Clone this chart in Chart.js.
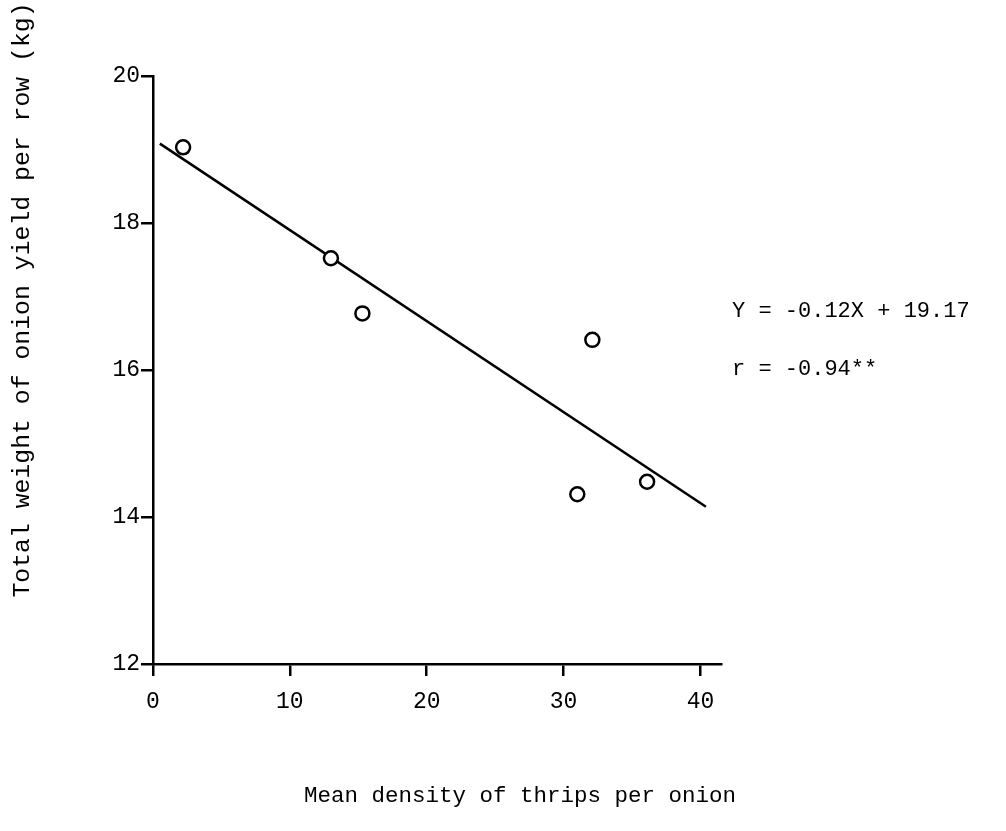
<!DOCTYPE html>
<html>
<head>
<meta charset="utf-8">
<script src="https://cdn.jsdelivr.net/npm/chart.js@4.4.1/dist/chart.umd.min.js"></script>
<style>
  html, body { margin: 0; padding: 0; background: #fff; }
  canvas { display: block; }
</style>
</head>
<body>
<canvas id="chart" width="1006" height="831"></canvas>
<script>
// tick values on the two axes
const xTickValues = [0, 10, 20, 30, 40];
const yTickValues = [12, 14, 16, 18, 20];

// observed points: mean thrips per onion vs yield per row (kg)
const thripsDensity = [2.2, 13.0, 15.3, 31.0, 32.1, 36.1];
const yieldKg = [19.03, 17.52, 16.77, 14.31, 16.41, 14.48];

// ends of the fitted regression line
const fitX = [0.5, 40.4];
const fitY = [19.08, 14.14];

const xTitle = 'Mean density of thrips per onion';
const yTitle = 'Total weight of onion yield per row (kg)';
const equationLines = ['Y = -0.12X + 19.17', 'r = -0.94**'];

const FONT = '"Liberation Mono", "DejaVu Sans Mono", monospace';

// draws the axis titles and the regression equation as text
const textPlugin = {
    id: 'textPlugin',
    afterDraw(chart) {
        const ctx = chart.ctx;
        ctx.save();
        ctx.fillStyle = '#000';
        ctx.textBaseline = 'middle';

        ctx.font = '22.5px ' + FONT;
        ctx.textAlign = 'center';
        ctx.fillText(xTitle, 520, 796);

        ctx.font = '22px ' + FONT;
        ctx.textAlign = 'left';
        ctx.fillText(equationLines[0], 732, 311);
        ctx.fillText(equationLines[1], 732, 369);

        ctx.translate(22, 300);
        ctx.rotate(-Math.PI / 2);
        ctx.font = '24.8px ' + FONT;
        ctx.textAlign = 'center';
        ctx.fillText(yTitle, 0, 0);
        ctx.restore();
    }
};

const points = thripsDensity.map((x, i) => ({ x: x, y: yieldKg[i] }));
const fitLine = fitX.map((x, i) => ({ x: x, y: fitY[i] }));

new Chart(document.getElementById('chart').getContext('2d'), {
    type: 'scatter',
    data: {
        datasets: [
            {
                label: 'Observed',
                data: points,
                showLine: false,
                pointStyle: 'circle',
                pointRadius: 7,
                pointBorderWidth: 2.5,
                pointBackgroundColor: '#fff',
                pointBorderColor: '#000',
                clip: false
            },
            {
                label: 'Fit',
                data: fitLine,
                showLine: true,
                borderColor: '#000',
                borderWidth: 2.5,
                pointRadius: 0,
                fill: false,
                clip: false
            }
        ]
    },
    options: {
        responsive: false,
        animation: false,
        devicePixelRatio: 1,
        layout: {
            padding: { left: 0, top: 76, right: 285, bottom: 0 }
        },
        plugins: {
            legend: { display: false },
            tooltip: { enabled: false },
            title: { display: false }
        },
        scales: {
            x: {
                type: 'linear',
                min: 0,
                max: 41.5,
                afterBuildTicks: (scale) => {
                    scale.ticks = xTickValues.map(v => ({ value: v }));
                },
                afterFit: (scale) => { scale.height = 167; },
                border: { display: true, color: '#000', width: 2.5 },
                grid: {
                    display: true,
                    drawOnChartArea: false,
                    drawTicks: true,
                    tickLength: 12,
                    color: '#000',
                    lineWidth: 2.5
                },
                ticks: {
                    color: '#000',
                    padding: 12,
                    maxRotation: 0,
                    font: { family: FONT, size: 23 }
                }
            },
            y: {
                type: 'linear',
                min: 12,
                max: 20,
                afterBuildTicks: (scale) => {
                    scale.ticks = yTickValues.map(v => ({ value: v }));
                },
                afterFit: (scale) => { scale.width = 153; },
                border: { display: true, color: '#000', width: 2.5 },
                grid: {
                    display: true,
                    drawOnChartArea: false,
                    drawTicks: true,
                    tickLength: 12,
                    color: '#000',
                    lineWidth: 2.5
                },
                ticks: {
                    color: '#000',
                    padding: 1,
                    font: { family: FONT, size: 23 }
                }
            }
        }
    },
    plugins: [textPlugin]
});
</script>
</body>
</html>
